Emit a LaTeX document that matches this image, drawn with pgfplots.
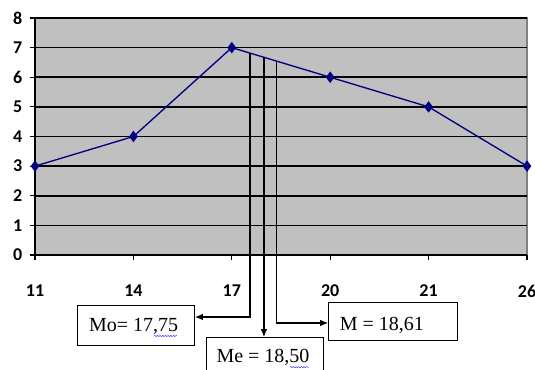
\documentclass[border=0pt]{standalone}
\usepackage{pgfplots}
\pgfplotsset{compat=1.18}
\usepackage{fontspec}
\setmainfont{Liberation Serif}
\newfontfamily\calibri{Carlito}
\usetikzlibrary{arrows.meta,decorations.pathmorphing}
\definecolor{navy}{RGB}{0,0,128}
\definecolor{bggray}{RGB}{192,192,192}
\definecolor{bordergray}{RGB}{128,128,128}
\begin{document}
\begin{tikzpicture}
\path[use as bounding box] (-26.25pt,-86.25pt) rectangle (375pt,191.25pt);
\clip (-26.25pt,-86.25pt) rectangle (375pt,191.25pt);
\begin{axis}[
  scale only axis, width=369pt, height=177.75pt,
  xmin=0, xmax=5, ymin=0, ymax=8,
  xtick={0,...,5}, xticklabels={11,14,17,20,21,26},
  ytick={0,...,8},
  axis lines*=left,
  axis line style={black, line width=1pt},
  axis background/.style={fill=bggray, draw=bordergray, line width=0.8pt},
  ymajorgrids, grid style={black, line width=1.2pt},
  tick align=outside, major tick length=4pt, tick style={black, line width=0.8pt},
  /pgf/number format/assume math mode=true,
  ticklabel style={font=\calibri\bfseries\fontsize{13.5}{16}\selectfont},
  xticklabel style={yshift=-15pt},
  yticklabel style={xshift=-2pt},
  clip=false,
]
\addplot[color=navy, line width=1pt, mark=diamond*, mark size=3.5pt, mark options={fill=navy}]
  coordinates {(0,3) (1,4) (2,7) (3,6) (4,5) (5,3)};
% annotations
\draw[line width=0.8pt, -{Latex[length=6pt,width=5pt]}] (axis cs:2.185,6.815) -- (axis cs:2.185,-2.093) -- (axis cs:1.626,-2.093);
\draw[line width=0.8pt, -{Latex[length=6pt,width=5pt]}] (axis cs:2.327,6.673) -- (axis cs:2.327,-2.768);
\draw[line width=0.8pt, -{Latex[length=6pt,width=5pt]}] (axis cs:2.459,6.541) -- (axis cs:2.459,-2.295) -- (axis cs:2.978,-2.295);
\draw[line width=0.75pt, fill=white] (axis cs:0.427,-1.72) rectangle (axis cs:1.626,-3.04);
\draw[line width=0.75pt, fill=white] (axis cs:1.738,-2.768) rectangle (axis cs:2.927,-4.3);
\draw[line width=0.75pt, fill=white] (axis cs:2.978,-1.62) rectangle (axis cs:4.289,-2.87);
\node[font=\fontsize{15}{18}\selectfont] at (axis cs:1.003,-2.40) {Mo= 17,75};
\node[font=\fontsize{15}{18}\selectfont] at (axis cs:2.317,-3.44) {Me = 18,50};
\node[font=\fontsize{15}{18}\selectfont] at (axis cs:3.526,-2.36) {M = 18,61};
\draw[blue!70, line width=0.4pt, decorate, decoration={snake, segment length=2pt, amplitude=0.5pt}] (axis cs:1.209,-2.734) -- (axis cs:1.443,-2.734);
\draw[blue!70, line width=0.4pt, decorate, decoration={snake, segment length=2pt, amplitude=0.5pt}] (axis cs:2.591,-3.787) -- (axis cs:2.784,-3.787);
\end{axis}
\end{tikzpicture}
\end{document}
